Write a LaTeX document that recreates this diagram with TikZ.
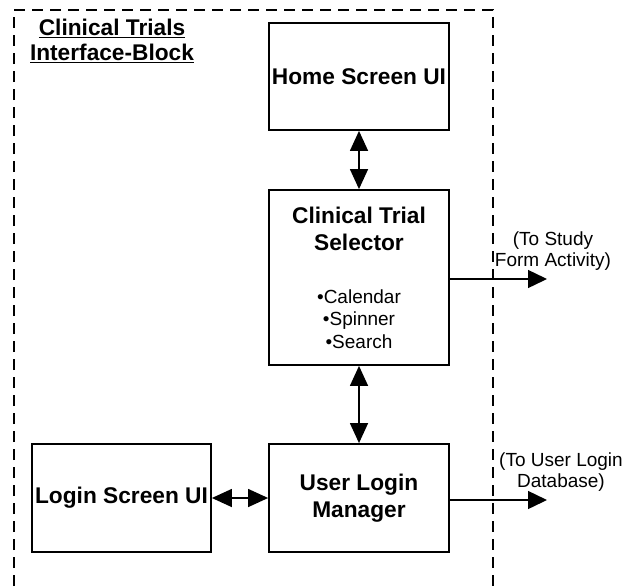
\documentclass[tikz,border=0pt]{standalone}
\usepackage{fontspec}
\setmainfont{Liberation Sans}
\usetikzlibrary{arrows.meta}
\tikzset{
  blk/.style={draw, line width=1.8pt, inner sep=0pt, align=center, font=\fontsize{22.7}{27}\selectfont\bfseries},
  conn/.style={line width=1.4pt, {Triangle[length=20pt,width=18pt]}-{Triangle[length=20pt,width=18pt]}},
  outc/.style={line width=1.4pt, -{Triangle[length=19pt,width=18pt]}},
  lbl/.style={align=center, inner sep=0pt, font=\fontsize{19}{21}\selectfont},
  frame/.style={line width=1.5pt, dash pattern=on 11pt off 7pt}
}
\begin{document}
\begin{tikzpicture}[x=1pt,y=-1pt]
\useasboundingbox (0,0) rectangle (628,586);
\draw[frame] (14,586) -- (14,10) -- (493,10) -- (493,586);
\node[align=center, inner sep=0pt, font=\fontsize{22.7}{25}\selectfont\bfseries] (title) at (112,41)
  {\underline{Clinical Trials}\\\underline{Interface-Block}};
\node[blk, minimum width=180pt, minimum height=107pt] (home) at (359,76.5) {Home Screen UI};
\node[blk, minimum width=180pt, minimum height=175pt] (cts) at (359,277.5) {};
\node[align=center, inner sep=0pt, font=\fontsize{22.7}{27}\selectfont\bfseries] (ctst) at (359,229) {Clinical Trial\\Selector};
\node[align=center, inner sep=0pt, font=\fontsize{19}{22.5}\selectfont] (ctsl) at (359,319) {•Calendar\\•Spinner\\•Search};
\node[blk, minimum width=179pt, minimum height=108pt] (login) at (121.5,498) {Login Screen UI};
\node[blk, minimum width=180pt, minimum height=108pt] (ulm) at (359,498) {User Login\\Manager};
\coordinate (s1) at (547,279);
\coordinate (s2) at (547,500);
\node[lbl] (l1) at (553,251) {(To Study\\Form Activity)};
\node[lbl] (l2) at (561,472) {(To User Login\\Database)};
\draw[conn] (home.south) -- (cts.north);
\draw[conn] (cts.south) -- (ulm.north);
\draw[conn] (login.east) -- (ulm.west);
\draw[outc] (cts.east |- s1) -- (s1);
\draw[outc] (ulm.east |- s2) -- (s2);
\end{tikzpicture}
\end{document}
